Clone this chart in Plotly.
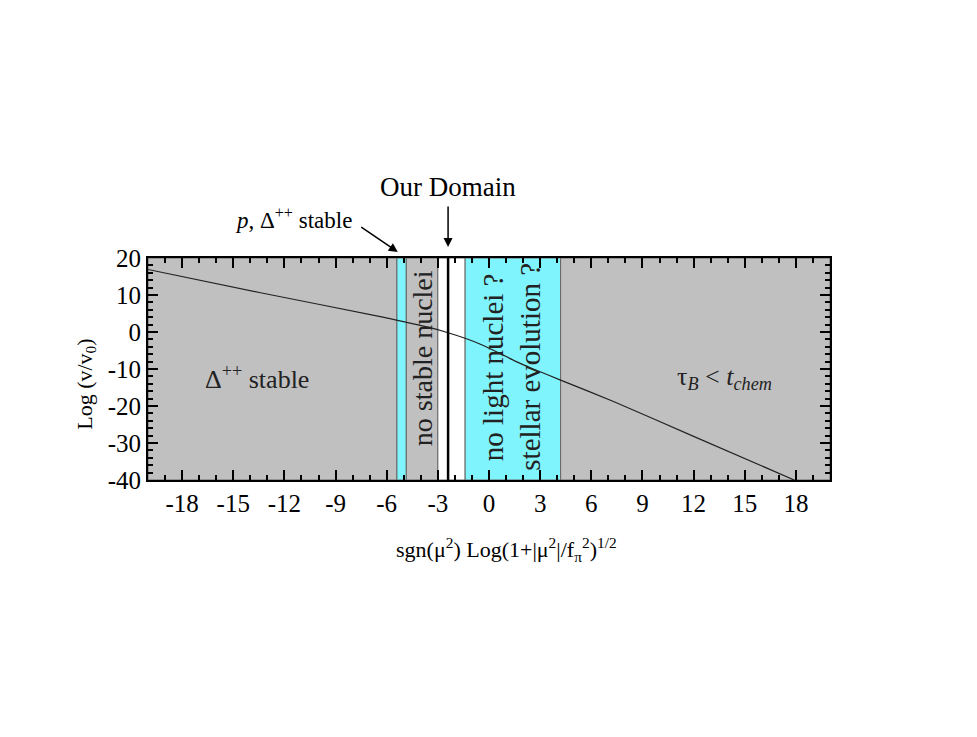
import plotly.graph_objects as go

# curve Log(v/v0) vs sgn(mu^2) Log(1+|mu^2|/f_pi^2)^(1/2)
curve_x = [-20, -13.4, -6.3, -3.4, -2.4, -1.4, -0.4, 0.6, 1.6, 2.6, 4.2, 7.3, 12, 17.9]
curve_y = [16.9, 10.6, 4.1, 1.1, -0.2, -1.7, -3.5, -5.7, -8.0, -10.0, -13.0, -18.8, -28.2, -40]

# shaded bands
band_x0 = [-20, -5.4, -4.85, -3.0, -1.4, 4.2]
band_x1 = [-5.4, -4.85, -3.0, -1.4, 4.2, 20]
band_kind = ["gray", "cyan", "gray", "white", "cyan", "gray"]
domain_x = -2.4

x_ticks = [-18, -15, -12, -9, -6, -3, 0, 3, 6, 9, 12, 15, 18]
y_ticks = [20, 10, 0, -10, -20, -30, -40]

fills = {"gray": "#c0c0c0", "cyan": "#80f4fc", "white": "#ffffff"}
serif = "Liberation Serif, Times New Roman, serif"
txt = "#222222"

fig = go.Figure()

for x0, x1, kind in zip(band_x0, band_x1, band_kind):
    fig.add_shape(type="rect", x0=x0, x1=x1, y0=-40, y1=20, xref="x", yref="y",
                  fillcolor=fills[kind], line=dict(color="#666666", width=1), layer="below")

fig.add_shape(type="line", x0=domain_x, x1=domain_x, y0=-40, y1=20, xref="x", yref="y",
              line=dict(color="black", width=2.5))

fig.add_trace(go.Scatter(x=curve_x, y=curve_y, mode="lines", line=dict(color="#222222", width=1.2,
                                                                         shape="spline", smoothing=0.6),
                         hoverinfo="skip", showlegend=False))

# labels inside the plot
fig.add_annotation(x=-13.6, y=-12.4, text="Δ<sup>++</sup> stable", showarrow=False,
                   font=dict(family=serif, size=26, color=txt))
fig.add_annotation(x=13.8, y=-12.4, text="τ<i><sub>B</sub></i> < <i>t<sub>chem</sub></i>", showarrow=False,
                   font=dict(family=serif, size=26, color=txt))
fig.add_annotation(x=-3.9, y=-7.2, text="no stable nuclei", textangle=-90, showarrow=False,
                   font=dict(family=serif, size=28, color=txt))
fig.add_annotation(x=0.2, y=-9.4, text="no light nuclei ?", textangle=-90, showarrow=False,
                   font=dict(family=serif, size=29, color=txt))
fig.add_annotation(x=2.4, y=-9.4, text="stellar evolution ?", textangle=-90, showarrow=False,
                   font=dict(family=serif, size=29, color=txt))

# labels above the plot
fig.add_annotation(x=domain_x, y=1.32, xref="x", yref="paper", yanchor="middle", text="Our Domain",
                   showarrow=False, font=dict(family=serif, size=27, color="black"))
fig.add_annotation(x=domain_x, y=1.05, xref="x", yref="paper", text="", showarrow=True,
                   ax=0, ay=-42, arrowhead=2, arrowsize=1.2, arrowwidth=1.5, arrowcolor="black")
fig.add_annotation(x=-7.9, y=1.18, xref="x", yref="paper", xanchor="right", yanchor="middle",
                   text="<i>p</i>, Δ<sup>++</sup> stable",
                   showarrow=False, font=dict(family=serif, size=23, color="black"))
fig.add_annotation(x=-5.35, y=1.027, xref="x", yref="paper", text="", showarrow=True,
                   ax=-38, ay=-26, arrowhead=2, arrowsize=1.2, arrowwidth=1.5, arrowcolor="black")

# axis titles (placed as annotations, slightly off-centre as in the original)
fig.add_annotation(x=0.525, y=-0.315, xref="paper", yref="paper", xanchor="center", yanchor="middle",
                   text="sgn(μ<sup>2</sup>) Log(1+|μ<sup>2</sup>|/f<sub>π</sub><sup>2</sup>)<sup>1/2</sup>",
                   showarrow=False, font=dict(family=serif, size=22, color="black"))
fig.add_annotation(x=-0.092, y=0.43, xref="paper", yref="paper", xanchor="center", yanchor="middle",
                   text="Log (v/v<sub>0</sub>)", textangle=-90,
                   showarrow=False, font=dict(family=serif, size=22, color="black"))

axis_common = dict(showline=True, linecolor="black", linewidth=2, mirror="allticks", ticks="inside",
                   ticklen=10, tickwidth=1.5, tickcolor="black", showgrid=False, zeroline=False,
                   tickfont=dict(family=serif, size=25, color="black"))

fig.update_xaxes(range=[-20, 20], tickvals=x_ticks, ticktext=[str(v) for v in x_ticks],
                 minor=dict(dtick=1, tick0=0, ticks="inside", ticklen=5, tickwidth=1.5, tickcolor="black"),
                 **axis_common)
fig.update_yaxes(range=[-40, 20], tickvals=y_ticks, ticktext=[str(v) for v in y_ticks],
                 minor=dict(dtick=2, tick0=0, ticks="inside", ticklen=5, tickwidth=1.5, tickcolor="black"),
                 **axis_common)

fig.update_layout(width=977, height=737, margin=dict(l=140, r=155, t=250, b=265),
                  paper_bgcolor="white", plot_bgcolor="#c0c0c0", showlegend=False)

fig.write_html("out.html")
